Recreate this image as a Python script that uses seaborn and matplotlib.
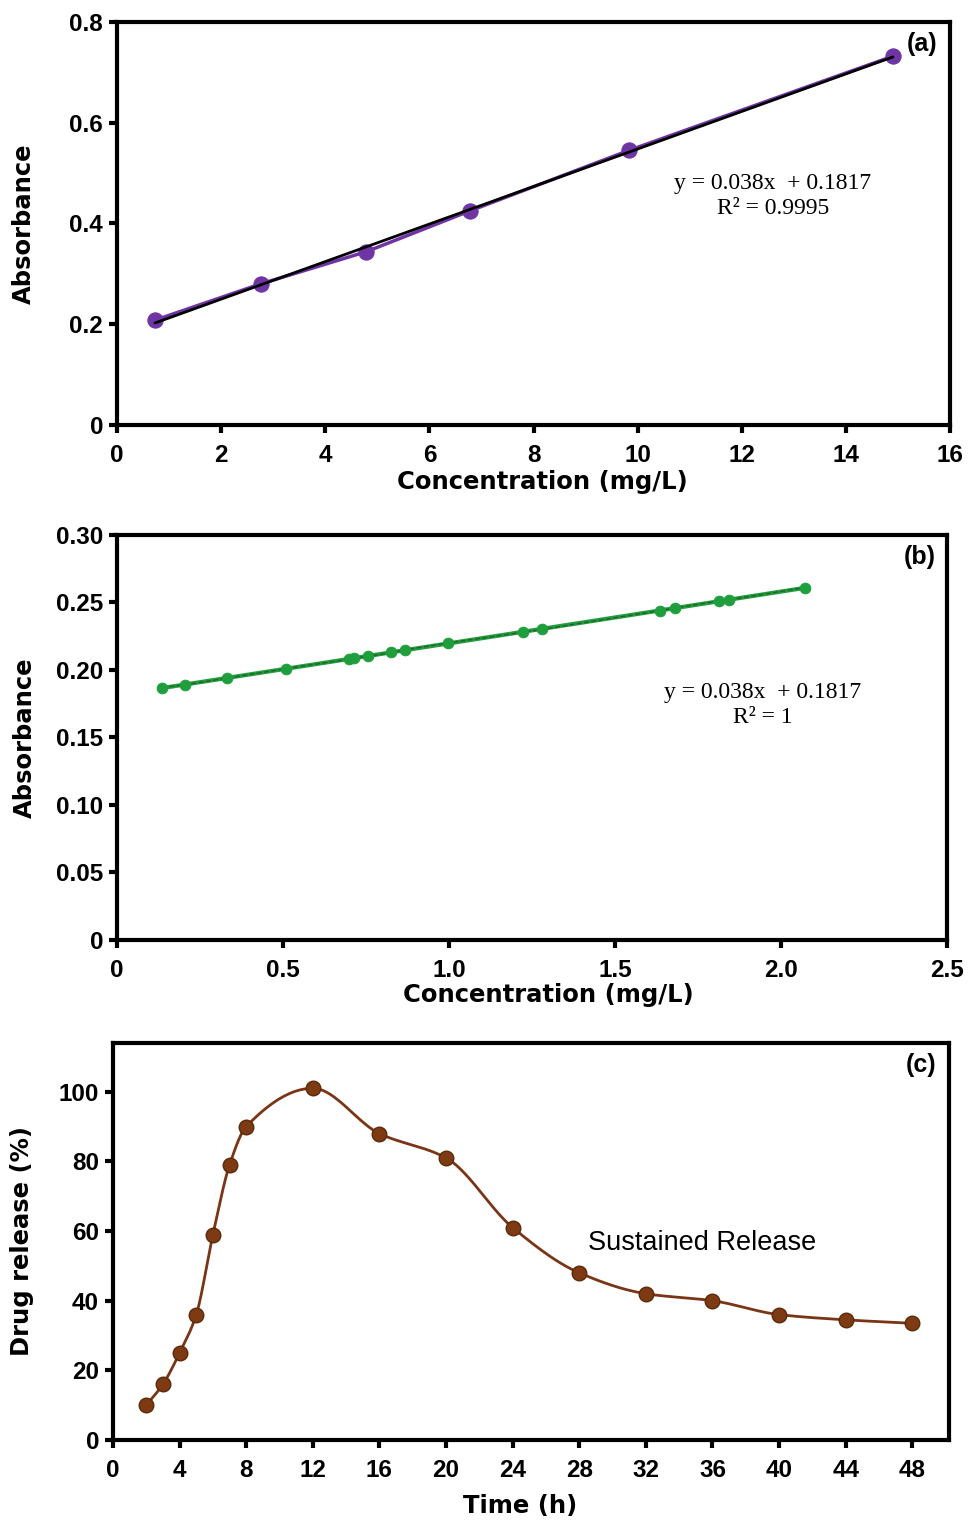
import numpy as np
import pandas as pd
import matplotlib
matplotlib.use("Agg")
import matplotlib.pyplot as plt
import seaborn as sns

# --- data ---
# (a) calibration curve
conc_a = [0.73, 2.76, 4.79, 6.78, 9.83, 14.9]
abs_a = [0.208, 0.280, 0.344, 0.425, 0.545, 0.732]

# (b) calibration points
conc_b = [0.136, 0.204, 0.332, 0.510, 0.698, 0.714, 0.756, 0.826, 0.869,
          0.997, 1.224, 1.279, 1.636, 1.681, 1.812, 1.844, 2.071]
abs_b = [0.187, 0.189, 0.194, 0.201, 0.208, 0.209, 0.210, 0.213, 0.215,
         0.220, 0.228, 0.230, 0.244, 0.246, 0.251, 0.252, 0.261]

# (c) drug release profile
time_c = [2, 3, 4, 5, 6, 7, 8, 12, 16, 20, 24, 28, 32, 36, 40, 44, 48]
release_c = [10, 16, 25, 36, 59, 79, 90, 101, 88, 81, 61, 48, 42, 40, 36, 34.5, 33.5]

sns.set_theme(style="ticks")
plt.rcParams["font.family"] = ["DejaVu Sans"]
plt.rcParams.update({"text.color": "black", "axes.labelcolor": "black",
                     "xtick.color": "black", "ytick.color": "black"})

purple = "#6f35a5"
green = "#1e9e3c"
brown = "#7e3a12"
brown_line = "#7a3416"
TICK_FONT = "Liberation Sans"
SERIF = "Liberation Serif"


def pchip_curve(x, y, n=25):
    # shape-preserving cubic through the points, only used to draw the line
    x = np.asarray(x, float)
    y = np.asarray(y, float)
    h = np.diff(x)
    d = np.diff(y) / h
    m = np.zeros_like(y)
    for k in range(1, len(x) - 1):
        if d[k - 1] * d[k] > 0:
            w1 = 2 * h[k] + h[k - 1]
            w2 = h[k] + 2 * h[k - 1]
            m[k] = (w1 + w2) / (w1 / d[k - 1] + w2 / d[k])
    m[0] = d[0]
    m[-1] = d[-1]
    xs, ys = [], []
    for i in range(len(x) - 1):
        t = np.linspace(0, 1, n, endpoint=False)
        h00 = 2 * t**3 - 3 * t**2 + 1
        h10 = t**3 - 2 * t**2 + t
        h01 = -2 * t**3 + 3 * t**2
        h11 = t**3 - t**2
        xs.append(x[i] + t * h[i])
        ys.append(h00 * y[i] + h10 * h[i] * m[i] + h01 * y[i + 1] + h11 * h[i] * m[i + 1])
    xs.append([x[-1]])
    ys.append([y[-1]])
    return np.concatenate(xs), np.concatenate(ys)


def style_axes(ax, xpad=7):
    for s in ax.spines.values():
        s.set_linewidth(3)
        s.set_color("black")
    ax.tick_params(axis="both", direction="out", length=6, width=3,
                   labelsize=17.5, top=False, right=False)
    ax.tick_params(axis="x", pad=xpad)
    ax.tick_params(axis="y", pad=4)
    for lab in ax.get_xticklabels() + ax.get_yticklabels():
        lab.set_fontweight("bold")
        lab.set_family(TICK_FONT)


def panel_label(ax, s):
    ax.text(0.948, 0.945, s, transform=ax.transAxes, fontsize=18,
            fontweight="bold", family=TICK_FONT, ha="left", va="center")


fig = plt.figure(figsize=(9.69, 15.22), dpi=100)

# ---- (a) ----
ax1 = fig.add_axes([0.1207, 0.7208, 0.860, 0.2648])
df_a = pd.DataFrame({"conc": conc_a, "abs": abs_a})
sns.lineplot(data=df_a, x="conc", y="abs", ax=ax1, color=purple, lw=2.5,
             marker="o", markersize=11, markeredgecolor=purple)
sns.regplot(data=df_a, x="conc", y="abs", ax=ax1, scatter=False, ci=None,
            color="black", line_kws={"lw": 2})
ax1.set_xlim(0, 16)
ax1.set_ylim(0, 0.8)
ax1.set_xticks(range(0, 17, 2))
ax1.set_yticks([0, 0.2, 0.4, 0.6, 0.8])
ax1.set_yticklabels(["0", "0.2", "0.4", "0.6", "0.8"])
ax1.set_xlabel("Concentration (mg/L)", fontsize=17.5, fontweight="bold")
ax1.set_ylabel("Absorbance", fontsize=17.5, fontweight="bold")
ax1.xaxis.set_label_coords(0.511, -0.112)
ax1.yaxis.set_label_coords(-0.097, 0.50)
panel_label(ax1, "(a)")
ax1.text(0.787, 0.568, "y = 0.038x  + 0.1817\nR² = 0.9995", transform=ax1.transAxes,
         fontsize=17, family=SERIF, ha="center", va="center", linespacing=1.25)
style_axes(ax1, xpad=8)

# ---- (b) ----
ax2 = fig.add_axes([0.1207, 0.3824, 0.8566, 0.2661])
df_b = pd.DataFrame({"conc": conc_b, "abs": abs_b})
sns.regplot(data=df_b, x="conc", y="abs", ax=ax2, scatter=False, ci=None,
            color=green, line_kws={"lw": 3})
sns.lineplot(data=df_b, x="conc", y="abs", ax=ax2, color="#2a5e2a", lw=1,
             ls="--")
sns.scatterplot(data=df_b, x="conc", y="abs", ax=ax2, color=green, s=60,
                edgecolor=green, zorder=5)
ax2.set_xlim(0, 2.5)
ax2.set_ylim(0, 0.30)
ax2.set_xticks([0, 0.5, 1.0, 1.5, 2.0, 2.5])
ax2.set_xticklabels(["0", "0.5", "1.0", "1.5", "2.0", "2.5"])
ax2.set_yticks([0, 0.05, 0.10, 0.15, 0.20, 0.25, 0.30])
ax2.set_yticklabels(["0", "0.05", "0.10", "0.15", "0.20", "0.25", "0.30"])
ax2.set_xlabel("Concentration (mg/L)", fontsize=17.5, fontweight="bold")
ax2.set_ylabel("Absorbance", fontsize=17.5, fontweight="bold")
ax2.xaxis.set_label_coords(0.52, -0.106)
ax2.yaxis.set_label_coords(-0.097, 0.50)
panel_label(ax2, "(b)")
ax2.text(0.778, 0.58, "y = 0.038x  + 0.1817\nR² = 1", transform=ax2.transAxes,
         fontsize=17, family=SERIF, ha="center", va="center", linespacing=1.25)
style_axes(ax2, xpad=8)

# ---- (c) ----
ax3 = fig.add_axes([0.1166, 0.0539, 0.8627, 0.2608])
xs, ys = pchip_curve(time_c, release_c)
df_smooth = pd.DataFrame({"t": xs, "r": ys})
df_c = pd.DataFrame({"t": time_c, "r": release_c})
sns.lineplot(data=df_smooth, x="t", y="r", ax=ax3, color=brown_line, lw=2,
             sort=False)
sns.scatterplot(data=df_c, x="t", y="r", ax=ax3, color=brown, s=110,
                edgecolor="#5a2a0a", linewidth=1, zorder=5)
ax3.set_xlim(0, 50.2)
ax3.set_ylim(0, 114)
ax3.set_xticks(range(0, 49, 4))
ax3.set_yticks(range(0, 101, 20))
ax3.set_xlabel("Time (h)", fontsize=17.5, fontweight="bold")
ax3.set_ylabel("Drug release (%)", fontsize=17.5, fontweight="bold")
ax3.xaxis.set_label_coords(0.487, -0.136)
ax3.yaxis.set_label_coords(-0.095, 0.50)
panel_label(ax3, "(c)")
ax3.text(28.5, 56.5, "Sustained Release", fontsize=19.5, ha="left", va="center",
         family=TICK_FONT)
style_axes(ax3, xpad=8)

fig.savefig("out.png", dpi=100)
